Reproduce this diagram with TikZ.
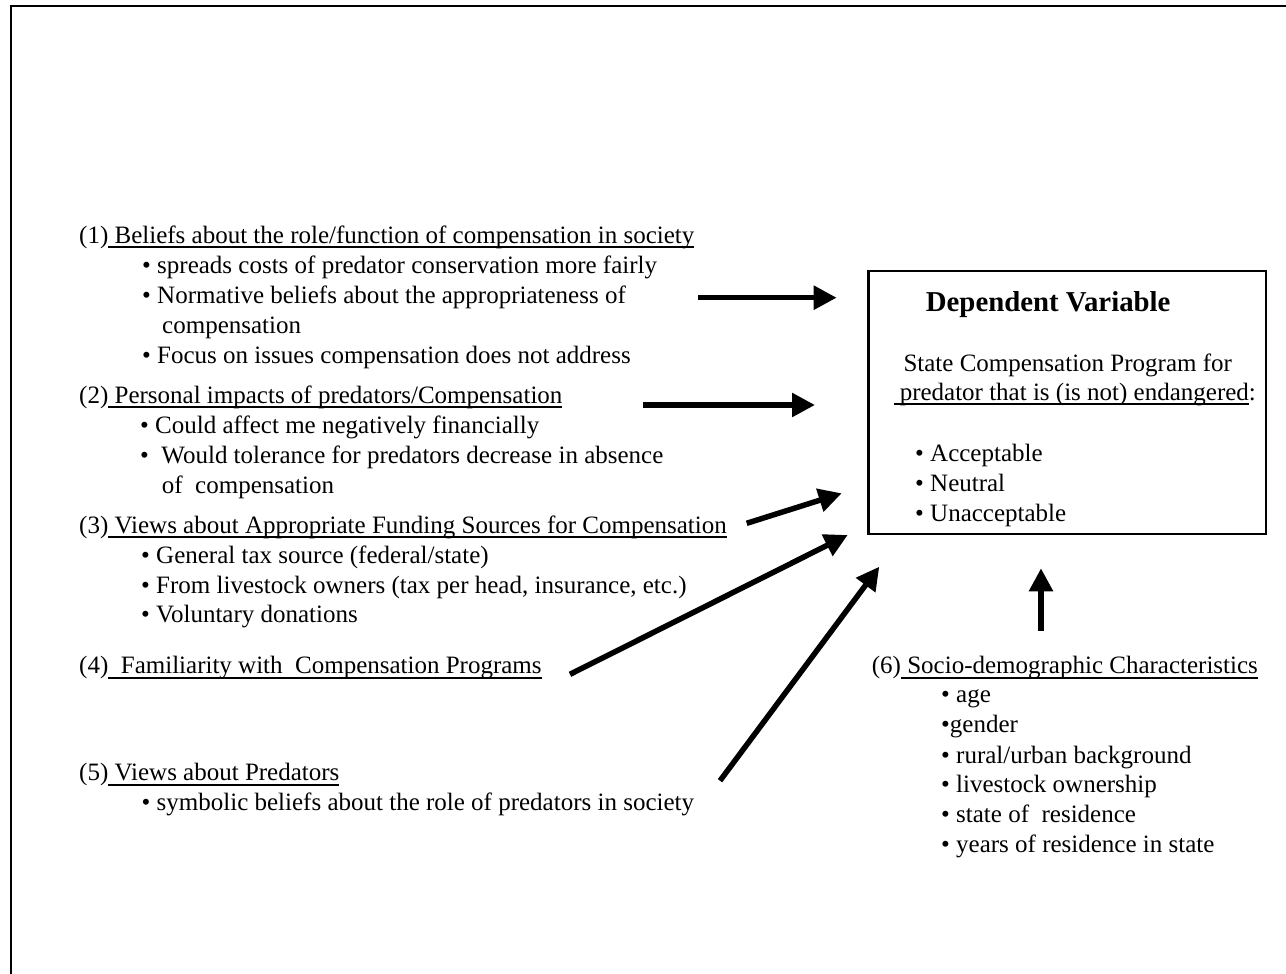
\documentclass[tikz,border=0pt]{standalone}
\usepackage{fontspec}
\setmainfont{Liberation Serif}
\usetikzlibrary{arrows.meta}
\newlength\undlwd
\newcommand\undl[1]{\settowidth\undlwd{#1}\rlap{\rule[-4.7pt]{\undlwd}{1.8pt}}#1}

\begin{document}
\begin{tikzpicture}[x=1pt, y=-1pt,
  txt/.style={anchor=base west, inner sep=0pt, font=\fontsize{25}{29.5}\selectfont},
  ttl/.style={anchor=base west, inner sep=0pt, font=\fontsize{28.8}{34}\selectfont\bfseries},
  dvbox/.style={draw=black, line width=2.6pt, inner sep=0pt, minimum width=397.3pt, minimum height=263pt},
  arr/.style={draw=black, line width=5.5pt, -{Triangle[length=23pt,width=23pt]}}]
\useasboundingbox (0,0) rectangle (1286,974);
\draw[line width=2pt] (11,974) -- (11,5.7) -- (1286,5.7);
% dependent variable
\node[dvbox] (dv) at (1067.3,402.5) {};
\node[ttl] (dvt) at (925.7,311.7) {Dependent Variable};
\node[txt] (dv1) at (903.3,371) {State Compensation Program for};
\node[txt] (dv2) at (893.3,400) {\undl{\ predator that is (is not) endangered}:};
\node[txt] (dv3) at (915,461.7) {\textbullet\ Acceptable};
\node[txt] (dv4) at (915,491.7) {\textbullet\ Neutral};
\node[txt] (dv5) at (915,521.7) {\textbullet\ Unacceptable};
% (1)
\node[txt] (h1) at (79,243.3) {(1)\undl{\ Beliefs about the role/function of compensation in society}};
\node[txt] (b1a) at (142,273.3) {\textbullet\ spreads costs of predator conservation more fairly};
\node[txt] (b1b) at (142,303.3) {\textbullet\ Normative beliefs about the appropriateness of};
\node[txt] (b1c) at (162,333.3) {compensation};
\node[txt] (b1d) at (142,363.3) {\textbullet\ Focus on issues compensation does not address};
% (2)
\node[txt] (h2) at (79,403.3) {(2)\undl{\ Personal impacts of predators/Compensation}};
\node[txt] (b2a) at (140,433.3) {\textbullet\ Could affect me negatively financially};
\node[txt] (b2b) at (140,463.3) {\textbullet\ \ Would tolerance for predators decrease in absence};
\node[txt] (b2c) at (161.7,493.3) {of\ \ compensation};
% (3)
\node[txt] (h3) at (79,533.5) {(3)\undl{\ Views about Appropriate Funding Sources for Compensation}};
\node[txt] (b3a) at (141,563.5) {\textbullet\ General tax source (federal/state)};
\node[txt] (b3b) at (141,593) {\textbullet\ From livestock owners (tax per head, insurance, etc.)};
\node[txt] (b3c) at (141,622.5) {\textbullet\ Voluntary donations};
% (4) and (5)
\node[txt] (h4) at (79,673.8) {(4)\undl{\ \ Familiarity with\ \ Compensation Programs}};
\node[txt] (h5) at (79,780.8) {(5)\undl{\ Views about Predators}};
\node[txt] (b5a) at (141.5,810.8) {\textbullet\ symbolic beliefs about the role of predators in society};
% (6)
\node[txt] (h6) at (871.7,673.8) {(6)\undl{\ Socio-demographic Characteristics}};
\node[txt] (b6a) at (941,702.5) {\textbullet\ age};
\node[txt] (b6b) at (941,732.5) {\textbullet gender};
\node[txt] (b6c) at (941,763) {\textbullet\ rural/urban background};
\node[txt] (b6d) at (941,792.5) {\textbullet\ livestock ownership};
\node[txt] (b6e) at (941,822.5) {\textbullet\ state of\ \ residence};
\node[txt] (b6f) at (941,852.5) {\textbullet\ years of residence in state};
% arrows
\coordinate (s1) at (698,297.7);   \coordinate (t1) at (836.7,297.7);
\coordinate (s2) at (643.3,405);   \coordinate (t2) at (815,405);
\coordinate (s3) at (746.7,523.3); \coordinate (t3) at (841.7,493.3);
\coordinate (s4) at (570,674.3);   \coordinate (t4) at (847.7,535);
\coordinate (s5) at (720,780.7);   \coordinate (t5) at (879.3,566.7);
\coordinate (s6) at (1041,630.7);  \coordinate (t6) at (1041,568.3);
\foreach \i in {1,...,6} \draw[arr] (s\i) -- (t\i);
\end{tikzpicture}
\end{document}
